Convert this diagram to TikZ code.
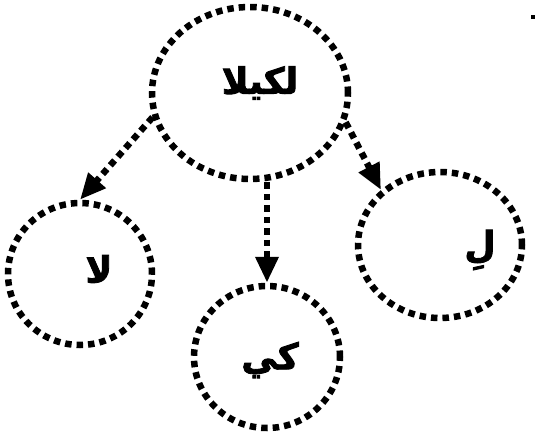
\documentclass[tikz,border=0pt]{standalone}
\usepackage{fontspec}
\usetikzlibrary{shapes.geometric,arrows.meta}
\TeXXeTstate=1
\newfontfamily\arabicfont[Script=Arabic,FakeBold=2.5]{DejaVu Sans Bold}
\tikzset{
  dotring/.style={ellipse,draw=black,line width=6.5pt,dash pattern=on 6.5pt off 5pt,line cap=butt,inner sep=0pt},
  dotarrow/.style={line width=6.5pt,dash pattern=on 6.5pt off 5pt,line cap=butt,-{Triangle[length=26pt,width=22pt]}},
  word/.style={font=\arabicfont\fontsize{36}{42}\selectfont,inner sep=0pt}
}
\begin{document}
\begin{tikzpicture}[x=1pt,y=-1pt]
\useasboundingbox (0,0) rectangle (539,434);
\node[dotring,minimum width=196pt,minimum height=172pt] (top) at (250,93) {};
\node[dotring,minimum width=144pt,minimum height=142pt] (L) at (80,274) {};
\node[dotring,minimum width=146pt,minimum height=142pt] (M) at (267,357) {};
\node[dotring,minimum width=164pt,minimum height=146pt] (R) at (440,245) {};
\node[word] (ttop) at (260,83) {\beginR لكيلا\endR};
\node[word] (tL) at (99,269) {\beginR لا\endR};
\node[word] (tM) at (270,360) {\beginR كي\endR};
\node[word] (tR) at (480,250) {\beginR لِ\endR};
\draw[dotarrow] (top.194.5) -- (L.north);
\draw[dotarrow] (top.south -| M.north) -- (M.north);
\draw[dotarrow] (top.-17) -- (R.137);
\fill (531,15) rectangle (535,19);
\end{tikzpicture}
\end{document}
